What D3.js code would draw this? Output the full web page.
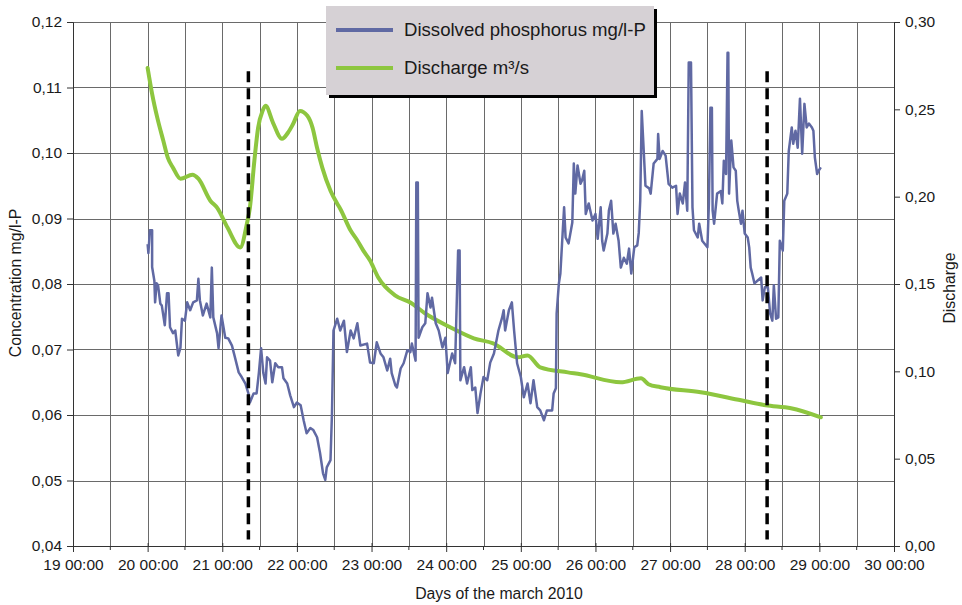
<!DOCTYPE html>
<html lang="en">
<head>
    <meta charset="UTF-8">
    <title>Dissolved phosphorus and discharge | D3</title>
    <style>
        body { margin: 0; background: #fff; }
        text { font-family: "Liberation Sans", Arial, sans-serif; fill: #1a1a1a; }
    </style>
</head>
<body>
    <div id="container"></div>

    <script type="text/javascript" src="https://d3js.org/d3.v7.min.js"></script>
    <script type="text/javascript">
        // Days of march 2010 (decimal day) and dissolved phosphorus, mg/l-P
        var phosTime = [
            20.00, 20.01, 20.03, 20.06, 20.06, 20.09, 20.10, 20.12, 20.14, 20.17,
            20.19, 20.23, 20.26, 20.28, 20.30, 20.34, 20.37, 20.41, 20.44, 20.46,
            20.50, 20.53, 20.57, 20.61, 20.66, 20.68, 20.70, 20.74, 20.79, 20.84,
            20.86, 20.88, 20.93, 20.95, 20.99, 21.04, 21.08, 21.13, 21.17, 21.22,
            21.26, 21.31, 21.35, 21.37, 21.42, 21.46, 21.49, 21.52, 21.55, 21.58,
            21.60, 21.64, 21.67, 21.71, 21.75, 21.80, 21.82, 21.87, 21.91, 21.96,
            22.00, 22.05, 22.09, 22.13, 22.18, 22.22, 22.27, 22.31, 22.35, 22.38,
            22.40, 22.45, 22.47, 22.49, 22.54, 22.58, 22.63, 22.67, 22.72, 22.76,
            22.81, 22.85, 22.94, 22.98, 23.03, 23.07, 23.12, 23.16, 23.21, 23.25,
            23.27, 23.32, 23.34, 23.39, 23.43, 23.48, 23.52, 23.54, 23.59, 23.60,
            23.62, 23.63, 23.68, 23.72, 23.75, 23.79, 23.81, 23.86, 23.90, 23.95,
            23.99, 24.02, 24.08, 24.12, 24.16, 24.18, 24.19, 24.24, 24.28, 24.33,
            24.35, 24.39, 24.42, 24.46, 24.50, 24.55, 24.59, 24.64, 24.70, 24.75,
            24.77, 24.79, 24.84, 24.88, 24.91, 24.95, 25.00, 25.04, 25.09, 25.13,
            25.17, 25.22, 25.26, 25.31, 25.35, 25.42, 25.44, 25.47, 25.48, 25.51,
            25.53, 25.56, 25.58, 25.60, 25.64, 25.69, 25.71, 25.73, 25.76, 25.80,
            25.82, 25.85, 25.87, 25.91, 25.96, 26.00, 26.03, 26.07, 26.09, 26.11,
            26.16, 26.18, 26.21, 26.24, 26.27, 26.31, 26.34, 26.38, 26.42, 26.45,
            26.48, 26.52, 26.56, 26.58, 26.60, 26.62, 26.65, 26.67, 26.72, 26.74,
            26.78, 26.83, 26.84, 26.86, 26.90, 26.94, 26.98, 27.03, 27.08, 27.10,
            27.13, 27.17, 27.20, 27.23, 27.25, 27.28, 27.30, 27.32, 27.37, 27.39,
            27.43, 27.50, 27.52, 27.54, 27.56, 27.57, 27.59, 27.63, 27.68, 27.70,
            27.72, 27.75, 27.77, 27.78, 27.79, 27.82, 27.85, 27.88, 27.90, 27.92,
            27.95, 27.97, 28.00, 28.04, 28.06, 28.08, 28.10, 28.13, 28.17, 28.22,
            28.24, 28.27, 28.31, 28.34, 28.37, 28.39, 28.42, 28.45, 28.47, 28.51,
            28.53, 28.57, 28.59, 28.63, 28.65, 28.68, 28.71, 28.74, 28.77, 28.80,
            28.83, 28.86, 28.90, 28.92, 28.94, 28.97, 28.99, 29.02
        ];
        var phosConc = [
            0.0861, 0.0847, 0.0882, 0.0882, 0.0826, 0.0805, 0.0772, 0.0801, 0.0798, 0.0770,
            0.0767, 0.0737, 0.0786, 0.0786, 0.0734, 0.0725, 0.0729, 0.0691, 0.0703, 0.0747,
            0.0744, 0.0772, 0.0760, 0.0772, 0.0775, 0.0808, 0.0775, 0.0752, 0.0770, 0.0749,
            0.0825, 0.0749, 0.0725, 0.0702, 0.0752, 0.0718, 0.0717, 0.0706, 0.0688, 0.0665,
            0.0658, 0.0648, 0.0633, 0.0619, 0.0633, 0.0633, 0.0664, 0.0702, 0.0664, 0.0648,
            0.0688, 0.0683, 0.0650, 0.0679, 0.0673, 0.0673, 0.0656, 0.0648, 0.0630, 0.0612,
            0.0619, 0.0615, 0.0592, 0.0572, 0.0580, 0.0577, 0.0566, 0.0542, 0.0511, 0.0501,
            0.0520, 0.0531, 0.0603, 0.0729, 0.0747, 0.0729, 0.0744, 0.0696, 0.0729, 0.0717,
            0.0740, 0.0706, 0.0709, 0.0680, 0.0679, 0.0711, 0.0694, 0.0688, 0.0668, 0.0686,
            0.0664, 0.0645, 0.0642, 0.0671, 0.0679, 0.0699, 0.0696, 0.0709, 0.0683, 0.0955,
            0.0955, 0.0718, 0.0734, 0.0740, 0.0786, 0.0764, 0.0779, 0.0740, 0.0729, 0.0703,
            0.0718, 0.0664, 0.0694, 0.0679, 0.0851, 0.0851, 0.0653, 0.0673, 0.0648, 0.0673,
            0.0638, 0.0642, 0.0603, 0.0633, 0.0658, 0.0653, 0.0680, 0.0694, 0.0729, 0.0749,
            0.0760, 0.0729, 0.0760, 0.0772, 0.0729, 0.0679, 0.0658, 0.0627, 0.0648, 0.0618,
            0.0653, 0.0612, 0.0607, 0.0592, 0.0607, 0.0607, 0.0633, 0.0641, 0.0755, 0.0801,
            0.0816, 0.0877, 0.0917, 0.0871, 0.0862, 0.0894, 0.0984, 0.0938, 0.0981, 0.0953,
            0.0958, 0.0973, 0.0907, 0.0923, 0.0897, 0.0907, 0.0869, 0.0917, 0.0866, 0.0851,
            0.0877, 0.0912, 0.0927, 0.0877, 0.0892, 0.0866, 0.0825, 0.0840, 0.0831, 0.0854,
            0.0816, 0.0856, 0.0859, 0.0878, 0.0927, 0.1064, 0.0996, 0.0950, 0.0946, 0.0938,
            0.0984, 0.0991, 0.1029, 0.0991, 0.1003, 0.0996, 0.0953, 0.0947, 0.0950, 0.0907,
            0.0938, 0.0923, 0.0955, 0.0912, 0.1138, 0.1138, 0.0917, 0.0882, 0.0871, 0.0892,
            0.0866, 0.0856, 0.0923, 0.1069, 0.1069, 0.0912, 0.0892, 0.0938, 0.0942, 0.0923,
            0.0988, 0.0968, 0.1153, 0.1153, 0.0938, 0.1019, 0.0978, 0.0973, 0.0927, 0.0912,
            0.0892, 0.0912, 0.0877, 0.0871, 0.0856, 0.0825, 0.0816, 0.0801, 0.0805, 0.0810,
            0.0775, 0.0795, 0.0795, 0.0755, 0.0744, 0.0798, 0.0747, 0.0749, 0.0866, 0.0851,
            0.0927, 0.0938, 0.1003, 0.1039, 0.1014, 0.1034, 0.1008, 0.1083, 0.0999, 0.1075,
            0.1039, 0.1045, 0.1039, 0.1034, 0.0993, 0.0968, 0.0973, 0.0978
        ];

        // Discharge, m3/s
        var flowTime = [
            20.00, 20.06, 20.13, 20.21, 20.27, 20.34, 20.44, 20.60, 20.68, 20.84,
            20.93, 21.07, 21.24, 21.33, 21.37, 21.43, 21.48, 21.54, 21.58, 21.68,
            21.80, 21.88, 21.95, 22.04, 22.14, 22.21, 22.27, 22.34, 22.45, 22.54,
            22.58, 22.72, 22.81, 22.89, 22.98, 23.09, 23.32, 23.52, 23.72, 24.06,
            24.37, 24.63, 24.96, 25.09, 25.26, 25.63, 25.80, 26.34, 26.61, 26.71,
            26.87, 27.41, 27.95, 28.28, 28.62, 29.02
        ];
        var flowDischarge = [
            0.2737, 0.2589, 0.2451, 0.2320, 0.2223, 0.2166, 0.2103, 0.2126, 0.2103, 0.1977,
            0.1937, 0.1823, 0.1709, 0.1846, 0.1937, 0.2206, 0.2394, 0.2491, 0.2520, 0.2423,
            0.2331, 0.2366, 0.2417, 0.2491, 0.2463, 0.2394, 0.2280, 0.2166, 0.2034, 0.1960,
            0.1931, 0.1806, 0.1749, 0.1691, 0.1634, 0.1537, 0.1434, 0.1394, 0.1331, 0.1251,
            0.1189, 0.1160, 0.1080, 0.1091, 0.1023, 0.0994, 0.0983, 0.0937, 0.0960, 0.0926,
            0.0909, 0.0880, 0.0834, 0.0806, 0.0789, 0.0737
        ];

        // sampling period markers (dashed)
        var markerDays = [21.35, 28.30];
        var markerSpan = [0.041, 0.1125];

        var dayTicks = d3.range(19, 31);
        var halfDays = d3.range(19.5, 30, 1);
        var concTicks = d3.range(0.04, 0.1201, 0.01);
        var flowTicks = d3.range(0, 0.3001, 0.05);

        var legendLabels = ["Dissolved phosphorus mg/l-P", "Discharge m\u00b3/s"];
        var colors = ["#6069a3", "#8dc63f"];

        // plot box (window.top is read-only, so no bare "top")
        var plotLeft = 73, plotRight = 894, plotTop = 22, plotBottom = 546;

        var svg = d3.select("#container")
            .append("svg")
            .attr("width", 962)
            .attr("height", 605);

        var x = d3.scaleLinear().domain([19, 30]).range([plotLeft, plotRight]);
        var yConc = d3.scaleLinear().domain([0.04, 0.12]).range([plotBottom, plotTop]);
        var yFlow = d3.scaleLinear().domain([0, 0.30]).range([plotBottom, plotTop]);

        var comma = function(d) { return d3.format(".2f")(d).replace(".", ","); };

        // grid
        var grid = svg.append("g").attr("stroke", "#6a6a6a").attr("stroke-width", 1);
        grid.selectAll("line.h")
            .data(concTicks.slice(1))
            .enter()
                .append("line")
                .attr("x1", plotLeft).attr("x2", plotRight)
                .attr("y1", function(d) { return Math.round(yConc(d)) + 0.5; })
                .attr("y2", function(d) { return Math.round(yConc(d)) + 0.5; });
        grid.selectAll("line.v")
            .data(d3.range(19.5, 30, 0.5))
            .enter()
                .append("line")
                .attr("y1", plotTop).attr("y2", plotBottom)
                .attr("x1", function(d) { return Math.round(x(d)) + 0.5; })
                .attr("x2", function(d) { return Math.round(x(d)) + 0.5; });

        // axes
        var axisBottom = d3.axisBottom(x)
            .tickValues(dayTicks)
            .tickSize(6)
            .tickPadding(7)
            .tickFormat(function(d) { return d + " 00:00"; });
        var gx = svg.append("g")
            .attr("transform", "translate(0," + plotBottom + ")")
            .call(axisBottom);
        gx.selectAll(".tick line").attr("y1", -3);
        gx.selectAll(".minor")
            .data(halfDays)
            .enter()
                .append("line")
                .attr("x1", function(d) { return x(d); })
                .attr("x2", function(d) { return x(d); })
                .attr("y1", 0).attr("y2", 4)
                .attr("stroke", "#333");

        var gl = svg.append("g")
            .attr("transform", "translate(" + plotLeft + ",0)")
            .call(d3.axisLeft(yConc).tickValues(concTicks).tickSize(6).tickPadding(5).tickFormat(comma));

        var gr = svg.append("g")
            .attr("transform", "translate(" + plotRight + ",0)")
            .call(d3.axisRight(yFlow).tickValues(flowTicks).tickSize(6).tickPadding(5).tickFormat(comma));

        [gx, gl, gr].forEach(function(g) {
            g.select(".domain").attr("stroke", "#333");
            g.selectAll(".tick line").attr("stroke", "#333");
            g.selectAll("text")
                .attr("font-family", "Liberation Sans, Arial, sans-serif")
                .attr("font-size", 15.5)
                .attr("fill", "#1a1a1a");
        });

        // axis titles
        svg.append("text")
            .attr("x", 499).attr("y", 599)
            .attr("text-anchor", "middle")
            .attr("font-size", 15.8)
            .text("Days of the march 2010");
        svg.append("text")
            .attr("transform", "translate(21,283) rotate(-90)")
            .attr("text-anchor", "middle")
            .attr("font-size", 15.8)
            .text("Concentration mg/l-P");
        svg.append("text")
            .attr("transform", "translate(955,288) rotate(-90)")
            .attr("text-anchor", "middle")
            .attr("font-size", 15.8)
            .text("Discharge");

        // lines
        var flowLine = d3.line()
            .x(function(d, i) { return x(flowTime[i]); })
            .y(function(d) { return yFlow(d); })
            .curve(d3.curveMonotoneX);
        svg.append("path")
            .datum(flowDischarge)
            .attr("d", flowLine)
            .attr("fill", "none")
            .attr("stroke", colors[1])
            .attr("stroke-width", 4)
            .attr("stroke-linejoin", "round")
            .attr("stroke-linecap", "round");

        var phosLine = d3.line()
            .x(function(d, i) { return x(phosTime[i]); })
            .y(function(d) { return yConc(d); });
        svg.append("path")
            .datum(phosConc)
            .attr("d", phosLine)
            .attr("fill", "none")
            .attr("stroke", colors[0])
            .attr("stroke-width", 2.5)
            .attr("stroke-linejoin", "round");

        // dashed markers
        svg.selectAll("line.marker")
            .data(markerDays)
            .enter()
                .append("line")
                .attr("x1", function(d) { return x(d); })
                .attr("x2", function(d) { return x(d); })
                .attr("y1", yConc(markerSpan[1]))
                .attr("y2", yConc(markerSpan[0]))
                .attr("stroke", "#000")
                .attr("stroke-width", 3.5)
                .attr("stroke-dasharray", "11,6");

        // legend
        var legend = svg.append("g").attr("transform", "translate(326,6)");
        legend.append("rect")
            .attr("x", 3).attr("y", 3)
            .attr("width", 328).attr("height", 89)
            .attr("fill", "#000");
        legend.append("rect")
            .attr("width", 328).attr("height", 89)
            .attr("fill", "#d6d1d5");
        var items = legend.selectAll("g.item")
            .data(legendLabels)
            .enter()
                .append("g")
                .attr("transform", function(d, i) { return "translate(0," + (24 + i * 38) + ")"; });
        items.append("line")
            .attr("x1", 10).attr("x2", 67)
            .attr("stroke", function(d, i) { return colors[i]; })
            .attr("stroke-width", 4);
        items.append("text")
            .attr("x", 78).attr("y", 6)
            .attr("font-size", 18.6)
            .text(function(d) { return d; });
    </script>
</body>
</html>
